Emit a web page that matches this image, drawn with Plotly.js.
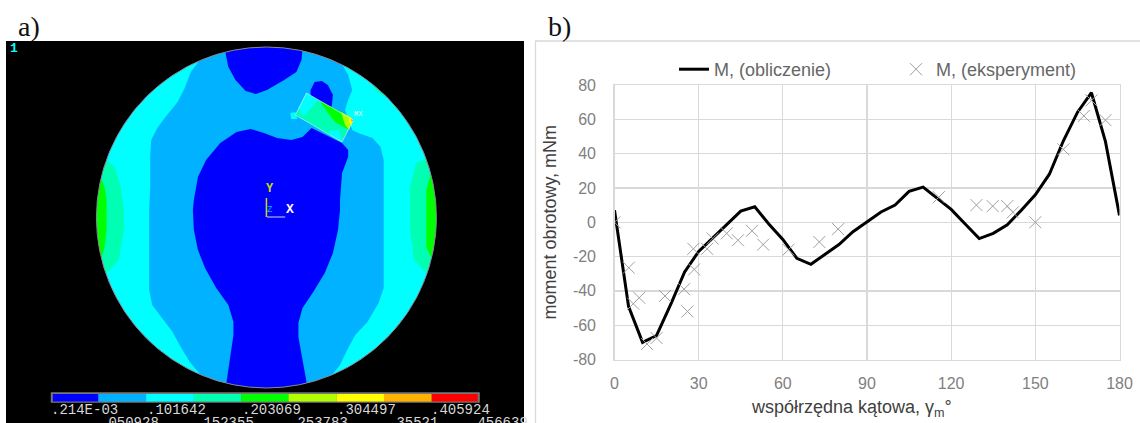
<!DOCTYPE html>
<html><head><meta charset="utf-8">
<script src="https://cdn.plot.ly/plotly-3.0.1.min.js"></script>
<style>html,body{margin:0;padding:0;background:#fff;overflow:hidden}#g{width:1140px;height:423px}</style>
</head><body><div id="g"></div>
<script>
// ---- panel b data ----
const calcAngle = [0,5,10,15,20,25,30,35,40,45,50,55,60,65,70,75,80,85,90,95,100,105,110,115,120,125,130,135,140,145,150,155,160,165,170,175,180];
const calcTorque = [7,-49,-70,-66,-48,-29,-17,-9,-1,6.5,9,-1,-10,-21,-24.5,-19,-13,-5.5,0,6,10,18,20.5,14,7.5,-1,-9.5,-6.5,-1.5,7,16,28,47.5,64,75.5,47,4];
const expAngle = [0,5.1,6.7,8.8,11.6,15,18,24.8,26,28.4,28.1,33,35,40,44,49,53,62,73,79.7,115.6,129,134.8,140,142,150,160,167.3,170,175];
const expTorque = [0,-26.5,-47.5,-44,-71,-67.5,-43,-39,-52,-27.5,-15.5,-15.5,-9.5,-6.5,-10.5,-5,-13,-16,-11.5,-4,14.6,10,9.4,9.4,5.8,0,42.5,62,71,59.5];
const xTicks = [0,30,60,90,120,150,180];
const yTicks = [-80,-60,-40,-20,0,20,40,60,80];
const calcName = 'M, (obliczenie)';
const expName = 'M, (eksperyment)';

// ---- panel a contour regions, [x...] / [y...] in picture units ----
const BLUE='#0000ff', SKY='#00b2ff', CYAN='#00ffff', MINT='#00ffb2', GREEN='#00ff00', LIME='#b2ff00', YELLOW='#ffff00', ORANGE='#ffb200', RED='#ff0000';
const discX = [0,600,600,0];
const discY = [30,30,430,430];
const skyX = [197,188,182,175,163,155,149,148,148,147,147,147,150,160,170,178,187,197,262,327,335,342,350,362,373,378,378,378,378,375,367,353,347,340,343,347,343,338,300,200];
const skyY = [60,72,88,102,117,128,140,157,187,210,277,290,305,318,332,347,362,374,410,375,365,350,335,322,303,288,277,210,160,147,138,133,130,110,100,90,75,66,35,35];
const topBlobX = [222,225,232,242,252,263,280,292,297,298,298,222];
const topBlobY = [52,67,80,91,94,90,80,72,60,50,35,35];
const smallBlobX = [306,310,317,323,328,327,325,306];
const smallBlobY = [90,82,81,85,95,105,112,100];
const coreX = [337,343,343,337,335,335,333,328,320,308,298,294,294,297,302,302,223,223,227,230,230,225,213,202,195,191,190,191,195,203,217,233,247,260,273,287,298,307];
const coreY = [143,150,157,173,200,210,230,253,273,293,308,323,337,353,382,410,410,383,353,335,322,305,288,268,250,230,210,200,177,160,143,132,129,133,138,140,137,128];
const leftMintX = [100,105,113,119,122,122,117,105,85,85];
const leftMintY = [158,160,167,187,210,230,260,273,273,158];
const leftGreenX = [99,103,105,105,103,100,85,85];
const leftGreenY = [177,187,200,230,247,258,258,177];
const rightMintX = [421,410,404,404,408,421,445,445];
const rightMintY = [158,163,187,230,260,274,274,158];
const rightGreenX = [424,420,420,420,425,445,445];
const rightGreenY = [175,190,210,247,258,258,175];
const sliverX = [365,372,382,395,375];
const sliverY = [82,92,98,85,70];
const disc = {cx:262.5, cy:217.5, rx:167.5, ry:170.5};
// rotor tooth
const toothX = [302,348,337,291,302];
const toothY = [93,120,142,115,93];
const toothCornerX = [302,313,299,294];
const toothCornerY = [93,100,117,108];
const toothFootX = [323,334,337,326];
const toothFootY = [131,130,142,136];
const toothTipX = [286,291,293,287];
const toothTipY = [113,112,119,119];
const toothEdgeX = [340,346,342];
const toothEdgeY = [120,125,131];
const toothGreenX = [317,340,344,330,316];
const toothGreenY = [102,114,130,122,103];
const toothLimeX = [336,347,344,340];
const toothLimeY = [112,118,130,125];
const toothYellowX = [344,348,346,344];
const toothYellowY = [117,120,126,122];
const toothOrangeX = [345,348,347];
const toothOrangeY = [118,120,123];
const toothRedX = [346.5,348,347];
const toothRedY = [119.5,120,121];
const triadYX = [262.5,262.5];
const triadYY = [198,217];
const triadXX = [263,281];
const triadXY = [217,217];
// colour scale
const scaleEdges = [52,97,144,191,237.7,284.3,331.7,378.3,425.3,470.7];
const scaleColors = [BLUE,SKY,CYAN,MINT,GREEN,LIME,YELLOW,ORANGE,RED];
const scaleTop = 394, scaleBottom = 401.5;
const scaleLabelsTop = ['.214E-03','.101642','.203069','.304497','.405924'];
const scaleLabelsTopX = [48,143,236,330,423];
const scaleLabelsBottom = ['.050928','.152355','.253783','.35521','.456639'];
const scaleLabelsBottomX = [97,190,283,380,460];

const traces = [];
function fillRegion(x,y,color){
  traces.push({x,y,xaxis:'x2',yaxis:'y2',type:'scatter',mode:'lines',fill:'toself',fillcolor:color,
    line:{width:0,color},hoverinfo:'skip',showlegend:false});
}
fillRegion(discX,discY,CYAN);
fillRegion(skyX,skyY,SKY);
fillRegion(topBlobX,topBlobY,BLUE);
fillRegion(smallBlobX,smallBlobY,BLUE);
fillRegion(coreX,coreY,BLUE);
fillRegion(leftMintX,leftMintY,MINT);
fillRegion(leftGreenX,leftGreenY,GREEN);
fillRegion(rightMintX,rightMintY,MINT);
fillRegion(rightGreenX,rightGreenY,GREEN);
fillRegion(sliverX,sliverY,MINT);
// outside of the disc stays black: a keyhole outline of panel and ellipse
const maskX=[0,600,600,0,0,disc.cx-disc.rx], maskY=[30,30,430,430,disc.cy,disc.cy];
for(let a=0;a<=360;a+=2){
  maskX.push(disc.cx-disc.rx*Math.cos(a*Math.PI/180));
  maskY.push(disc.cy+disc.ry*Math.sin(a*Math.PI/180));
}
maskX.push(0); maskY.push(disc.cy);
fillRegion(maskX,maskY,'#000000');
fillRegion(toothTipX,toothTipY,CYAN);
fillRegion(toothX,toothY,MINT);
fillRegion(toothCornerX,toothCornerY,CYAN);
fillRegion(toothFootX,toothFootY,CYAN);
fillRegion(toothEdgeX,toothEdgeY,CYAN);
fillRegion(toothGreenX,toothGreenY,GREEN);
fillRegion(toothLimeX,toothLimeY,LIME);
fillRegion(toothYellowX,toothYellowY,YELLOW);
fillRegion(toothOrangeX,toothOrangeY,ORANGE);
fillRegion(toothRedX,toothRedY,RED);
traces.push({x:toothX,y:toothY,xaxis:'x2',yaxis:'y2',type:'scatter',mode:'lines',line:{width:1,color:'rgba(200,240,240,0.65)'},hoverinfo:'skip',showlegend:false});
traces.push({x:triadYX,y:triadYY,xaxis:'x2',yaxis:'y2',type:'scatter',mode:'lines',line:{width:1.5,color:'#c8e000'},hoverinfo:'skip',showlegend:false});
traces.push({x:triadXX,y:triadXY,xaxis:'x2',yaxis:'y2',type:'scatter',mode:'lines',line:{width:1,color:'#d0d0ff'},hoverinfo:'skip',showlegend:false});
// colour scale frame + cells
fillRegion([50,472.7,472.7,50],[392.3,392.3,402.7,402.7],'#777777');
scaleColors.forEach((c,i)=>{
  fillRegion([scaleEdges[i],scaleEdges[i+1],scaleEdges[i+1],scaleEdges[i]],[scaleTop,scaleTop,scaleBottom,scaleBottom],c);
});
// panel b
traces.push({x:calcAngle,y:calcTorque,name:calcName,type:'scatter',mode:'lines',line:{color:'#000000',width:3},hoverinfo:'skip'});
traces.push({x:expAngle,y:expTorque,name:expName,type:'scatter',mode:'markers',
  marker:{symbol:'x-thin-open',size:12,color:'#a0a0a0',line:{width:1,color:'#a0a0a0'}},hoverinfo:'skip'});

const mono='"Liberation Mono","DejaVu Sans Mono",monospace';
const annotations=[
  {text:'a)',x:16/1140,y:1-27/423,xref:'paper',yref:'paper',xanchor:'left',yanchor:'middle',showarrow:false,font:{family:'"Liberation Serif",serif',size:28,color:'#111'}},
  {text:'b)',x:545.5/1140,y:1-27/423,xref:'paper',yref:'paper',xanchor:'left',yanchor:'middle',showarrow:false,font:{family:'"Liberation Serif",serif',size:28,color:'#111'}},
  {text:'1',x:8,y:48,xref:'x2',yref:'y2',xanchor:'left',yanchor:'middle',showarrow:false,font:{family:mono,size:13,color:'#00ffff',weight:700}},
  {text:'Y',x:266,y:189,xref:'x2',yref:'y2',showarrow:false,font:{family:mono,size:12,color:'#c8e000',weight:700}},
  {text:'X',x:286,y:209,xref:'x2',yref:'y2',showarrow:false,font:{family:mono,size:13,color:'#ffffff',weight:700}},
  {text:'Z',x:266,y:210,xref:'x2',yref:'y2',showarrow:false,font:{family:mono,size:9,color:'#00b2ff'}},
  {text:'MX',x:353,y:114,xref:'x2',yref:'y2',showarrow:false,font:{family:mono,size:7,color:'#e0f0f0'}},
  {text:'współrzędna kątowa, γ<sub>m</sub>°',x:851/1140,y:1-408/423,xref:'paper',yref:'paper',xanchor:'center',yanchor:'middle',showarrow:false,font:{size:18,color:'#404040'}},
];
scaleLabelsTop.forEach((t,i)=>annotations.push({text:t,x:scaleLabelsTopX[i],y:410,xref:'x2',yref:'y2',xanchor:'left',yanchor:'middle',showarrow:false,font:{family:mono,size:14,color:'#d8d8d8'}}));
scaleLabelsBottom.forEach((t,i)=>annotations.push({text:t,x:scaleLabelsBottomX[i],y:423,xref:'x2',yref:'y2',xanchor:'left',yanchor:'middle',showarrow:false,font:{family:mono,size:14,color:'#d8d8d8'}}));

const grid='#d9d9d9';
const layout={
  width:1140,height:423,margin:{l:0,r:0,t:0,b:0},paper_bgcolor:'#fff',plot_bgcolor:'rgba(0,0,0,0)',
  font:{family:'"Liberation Sans",Arial,sans-serif'},
  showlegend:true,
  legend:{orientation:'h',x:674/1140,y:1-51/423,xanchor:'left',yanchor:'top',entrywidth:177,entrywidthmode:'pixels',itemwidth:30,
    font:{size:18,color:'#666666'},bgcolor:'rgba(0,0,0,0)'},
  xaxis:{domain:[614.5/1140,1119.5/1140],range:[0,180],tickvals:xTicks,ticktext:xTicks.map(String),showgrid:true,gridcolor:grid,gridwidth:1.3,
    zeroline:false,showline:true,linecolor:grid,linewidth:1.3,mirror:true,ticks:'',ticklabelstandoff:9,
    tickfont:{size:16,color:'#7f7f7f'}},
  yaxis:{domain:[(423-359.5)/423,(423-85)/423],range:[-80,80],tickvals:yTicks,ticktext:yTicks.map(String),showgrid:true,gridcolor:grid,gridwidth:1.3,
    zeroline:false,showline:true,linecolor:grid,linewidth:1.3,mirror:true,ticks:'',ticklabelstandoff:14,
    tickfont:{size:16,color:'#7f7f7f'},title:{text:'moment obrotowy, mNm',font:{size:18,color:'#404040'},standoff:11}},
  xaxis2:{domain:[6/1140,524/1140],range:[6/1.015,524/1.015],visible:false,anchor:'y2',fixedrange:true},
  yaxis2:{domain:[0,(423-41)/423],range:[423,41],visible:false,anchor:'x2',fixedrange:true},
  annotations,
  shapes:[
    {type:'line',xref:'paper',yref:'paper',x0:535/1140,x1:1,y0:1-41/423,y1:1-41/423,line:{color:grid,width:1.3}},
    {type:'line',xref:'paper',yref:'paper',x0:535.5/1140,x1:535.5/1140,y0:0,y1:1-41/423,line:{color:grid,width:1.3}},
    {type:'circle',xref:'x2',yref:'y2',x0:disc.cx-disc.rx,x1:disc.cx+disc.rx,y0:disc.cy-disc.ry,y1:disc.cy+disc.ry,line:{color:'#8a8a9a',width:1},layer:'above'}
  ]
};
Plotly.newPlot('g',traces,layout,{staticPlot:true,displayModeBar:false});
</script></body></html>
